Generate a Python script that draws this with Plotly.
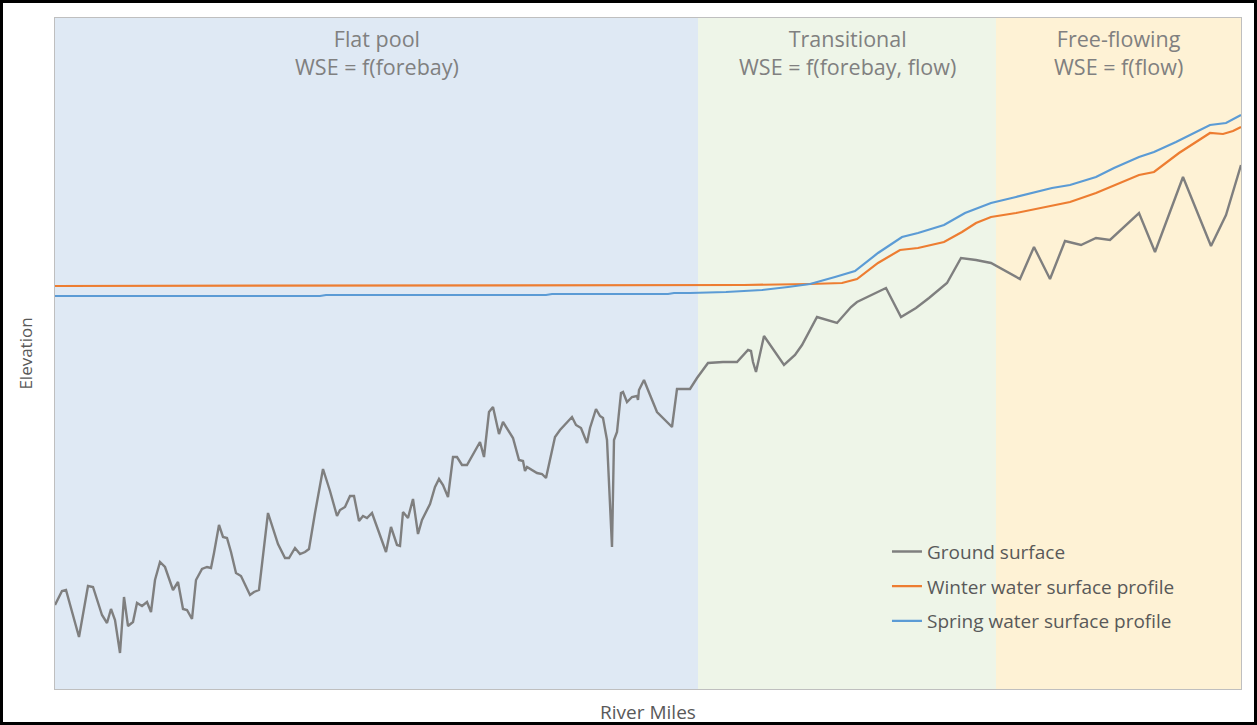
import plotly.graph_objects as go

# River profile: ground surface and two water surface profiles (units are arbitrary, no ticks shown)
ground_rm = [0.0, 0.7, 1.1, 2.4, 3.3, 3.8, 4.7, 5.2, 5.6, 6.0, 6.5, 6.9, 7.3, 7.8, 8.2, 8.7, 9.2, 9.6,
             10.0, 10.5, 11.0, 11.8, 12.3, 12.8, 13.2, 13.7, 14.1, 14.7, 15.2, 15.6, 15.9, 16.4, 16.8,
             17.2, 17.6, 18.1, 18.6, 19.5, 19.9, 20.4, 21.3, 21.8, 22.3, 23.0, 23.4, 24.0, 24.5, 25.0,
             25.4, 26.0, 26.8, 27.5, 28.2, 28.5, 29.0, 29.5, 29.9, 30.4, 30.8, 31.2, 31.7, 33.1, 33.6,
             34.2, 34.5, 34.8, 35.3, 35.8, 36.3, 36.7, 37.5, 38.0, 38.4, 38.8, 39.3, 39.8, 40.2, 40.7,
             41.2, 42.5, 42.9, 43.4, 43.8, 44.4, 44.8, 45.8, 46.4, 46.8, 47.0, 47.2, 48.2, 48.7, 49.1,
             50.0, 50.5, 51.7, 52.1, 52.6, 53.2, 53.5, 54.1, 54.5, 54.8, 55.2, 55.7, 55.9, 56.2, 56.6,
             56.8, 57.2, 57.7, 58.2, 58.3, 58.4, 58.9, 59.3, 60.2, 61.7, 62.2, 63.5, 64.2, 65.3, 66.8,
             68.2, 69.3, 69.6, 69.8, 70.1, 70.9, 72.9, 74.0, 74.7, 76.2, 78.2, 79.6, 80.2, 83.1, 84.6,
             86.1, 87.4, 89.2, 90.6, 92.1, 93.6, 96.5, 97.9, 99.5, 101.0, 102.6, 104.1, 105.5, 108.4,
             110.0, 112.8, 115.6, 117.1, 118.6]
ground_elev = [8.4, 9.8, 9.9, 5.2, 10.3, 10.2, 7.4, 6.6, 8.0, 6.9, 3.6, 9.2, 6.3, 6.7, 8.6, 8.3, 8.7, 7.7,
               10.9, 12.7, 12.2, 9.9, 10.7, 8.0, 7.9, 7.0, 10.9, 12.0, 12.2, 12.1, 13.6, 16.4, 15.2,
               15.1, 13.7, 11.6, 11.3, 9.4, 9.7, 9.9, 17.6, 16.0, 14.5, 13.1, 13.1, 14.1, 13.5, 13.7,
               14.0, 17.6, 22.0, 19.8, 17.3, 17.9, 18.2, 19.3, 19.3, 16.8, 17.3, 17.1, 17.6, 13.7, 16.2,
               14.4, 14.3, 17.7, 17.1, 19.0, 15.5, 16.9, 18.5, 20.2, 21.0, 20.4, 19.2, 23.2, 23.2, 22.4,
               22.4, 24.7, 23.2, 27.7, 28.2, 25.5, 26.7, 25.1, 22.9, 22.8, 21.8, 22.2, 21.6, 21.5, 21.1,
               25.2, 25.9, 27.2, 26.4, 26.1, 24.6, 26.1, 28.0, 27.3, 27.1, 24.9, 14.2, 24.9, 25.7, 29.6,
               29.7, 28.7, 29.2, 29.3, 28.9, 29.9, 30.9, 29.9, 27.7, 26.2, 30.0, 30.0, 31.1, 32.6, 32.7,
               32.7, 33.9, 33.8, 32.7, 31.7, 35.3, 32.4, 33.4, 34.4, 37.2, 36.6, 38.2, 38.7, 40.1, 37.2,
               38.1, 39.1, 40.6, 43.1, 42.9, 42.6, 41.0, 44.2, 41.0, 44.8, 44.4, 45.1, 44.9, 47.6,
               43.7, 51.2, 44.3, 47.4, 52.4]

winter_rm = [0.0, 68.9, 75.5, 78.7, 80.2, 82.3, 84.5, 86.3, 88.9, 90.7, 92.1, 93.6, 96.1, 99.7, 101.5,
             104.1, 105.5, 108.4, 109.9, 112.4, 115.5, 116.8, 117.8, 118.6]
winter_wse = [40.3, 40.4, 40.5, 40.6, 41.0, 42.6, 43.9, 44.1, 44.7, 45.7, 46.6, 47.2, 47.6, 48.3, 48.7,
              49.6, 50.2, 51.4, 51.7, 53.6, 55.6, 55.5, 55.8, 56.2]

spring_rm = [0.0, 26.5, 27.1, 49.1, 49.7, 61.3, 61.9, 63.5, 67.1, 70.7, 73.3, 75.5, 78.0, 80.0, 82.3,
             84.7, 86.3, 88.9, 91.0, 92.5, 93.6, 96.1, 99.7, 101.5, 104.1, 105.9, 108.4, 109.9, 112.1,
             115.5, 117.1, 118.6]
spring_wse = [39.3, 39.3, 39.4, 39.4, 39.5, 39.5, 39.6, 39.6, 39.7, 39.9, 40.2, 40.5, 41.2, 41.8, 43.6,
              45.2, 45.6, 46.4, 47.6, 48.2, 48.6, 49.2, 50.1, 50.4, 51.2, 52.1, 53.2, 53.7, 54.7,
              56.4, 56.6, 57.4]

# reach zones
zone_edges = [0.0, 64.3, 94.1, 118.6]
zone_names = ["Flat pool", "Transitional", "Free-flowing"]
zone_eqs = ["WSE = f(forebay)", "WSE = f(forebay, flow)", "WSE = f(flow)"]
zone_colors = ["#dfe9f4", "#eef5e8", "#fef2d5"]

X_MAX = 118.6
Y_MAX = 67.1

W, H = 1257, 725
ML, MR, MT, MB = 55, 16, 18, 36

fig = go.Figure()

fig.add_trace(go.Scatter(x=ground_rm, y=ground_elev, mode="lines", name="Ground surface",
                         line=dict(color="#7f7f7f", width=2.4), legendgroup="g"))
fig.add_trace(go.Scatter(x=winter_rm, y=winter_wse, mode="lines", name="Winter water surface profile",
                         line=dict(color="#ed7d31", width=2.2), legendgroup="w"))
fig.add_trace(go.Scatter(x=spring_rm, y=spring_wse, mode="lines", name="Spring water surface profile",
                         line=dict(color="#5b9bd5", width=2.2), legendgroup="s"))

# background bands + two-line labels
for i in range(len(zone_names)):
    fig.add_shape(type="rect", xref="x", yref="paper", x0=zone_edges[i], x1=zone_edges[i + 1],
                  y0=0, y1=1, fillcolor=zone_colors[i], line_width=0, layer="below")
    mid = (zone_edges[i] + zone_edges[i + 1]) / 2
    fig.add_annotation(x=mid, y=1, xref="x", yref="paper", yanchor="middle", yshift=-34,
                       showarrow=False, text=zone_names[i] + "<br>" + zone_eqs[i],
                       font=dict(family="Open Sans", size=21.5, color="#808080"))

# black frame around the whole picture
pw = W - ML - MR
ph = H - MT - MB
fig.add_shape(type="rect", xref="paper", yref="paper",
              x0=(-ML + 1.5) / pw, x1=1 + (MR - 1.5) / pw,
              y0=(-MB + 1.5) / ph, y1=1 + (MT - 1.5) / ph,
              line=dict(color="black", width=3), fillcolor="rgba(0,0,0,0)")

fig.update_xaxes(range=[0, X_MAX], showgrid=False, zeroline=False, showticklabels=False, ticks="",
                 showline=True, mirror=True, linecolor="#bfbfbf", linewidth=1,
                 title=dict(text="River Miles", standoff=17,
                            font=dict(family="Open Sans", size=19, color="#595959")))
fig.update_yaxes(range=[0, Y_MAX], showgrid=False, zeroline=False, showticklabels=False, ticks="",
                 showline=True, mirror=True, linecolor="#bfbfbf", linewidth=1,
                 title=dict(text="Elevation", standoff=17,
                            font=dict(family="Open Sans", size=17, color="#595959")))

fig.update_layout(
    width=W, height=H,
    margin=dict(l=ML, r=MR, t=MT, b=MB, autoexpand=False),
    paper_bgcolor="white", plot_bgcolor="white",
    font=dict(family="Open Sans", color="#595959"),
    legend=dict(x=0.7015, y=0.233, xanchor="left", yanchor="top", bgcolor="rgba(0,0,0,0)",
                font=dict(family="Open Sans", size=19, color="#595959"), tracegroupgap=7),
    showlegend=True,
)

# page body has an 8px default margin; drop it so the figure fills the window
fig.write_html("out.html", config={"displayModeBar": False},
               post_script="document.body.style.margin='0';")
